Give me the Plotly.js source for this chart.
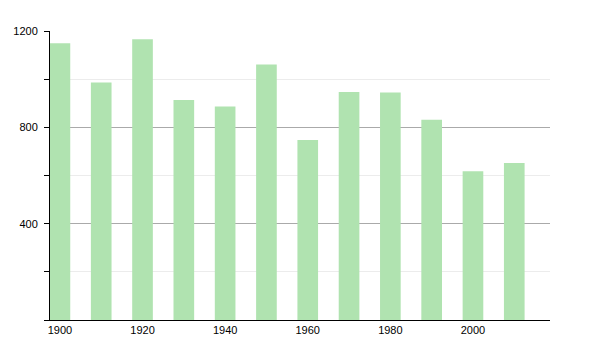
<!DOCTYPE html>
<html>
<head>
<meta charset="utf-8">
<script src="https://cdn.plot.ly/plotly-3.0.1.min.js"></script>
<style>html,body{margin:0;padding:0;background:#fff;}#chart{width:600px;height:350px;}</style>
</head>
<body>
<div id="chart"></div>
<script>
var years = [1900, 1910, 1920, 1930, 1940, 1950, 1960, 1970, 1980, 1990, 2000, 2010];
var population = [1149, 986, 1166, 913, 886, 1061, 747, 947, 945, 831, 618, 652];
var xTickVals = [1900, 1920, 1940, 1960, 1980, 2000];
var xTickText = ['1900', '1920', '1940', '1960', '1980', '2000'];
var yTickVals = [400, 800, 1200];
var yTickText = ['400', '800', '1200'];

var trace = {
  type: 'bar',
  x: years,
  y: population,
  width: 5,
  marker: {color: 'rgb(176,227,176)', line: {width: 0}},
  hoverinfo: 'x+y'
};

var layout = {
  width: 600,
  height: 350,
  margin: {l: 50, r: 50, t: 31, b: 30, pad: 0},
  paper_bgcolor: '#fff',
  plot_bgcolor: '#fff',
  showlegend: false,
  font: {family: '"Liberation Sans", Arial, sans-serif', size: 11, color: '#000'},
  xaxis: {
    range: [1897.6, 2018.65],
    tickvals: xTickVals,
    ticktext: xTickText,
    ticks: '',
    showgrid: false,
    zeroline: false,
    showline: true,
    linecolor: '#000',
    linewidth: 1,
    fixedrange: true
  },
  yaxis: {
    range: [0, 1200],
    tickvals: yTickVals,
    ticktext: yTickText,
    ticks: 'outside',
    ticklen: 5,
    tickcolor: '#000',
    ticklabelstandoff: 4,
    showgrid: true,
    gridcolor: '#aaaaaa',
    gridwidth: 1,
    zeroline: false,
    showline: true,
    linecolor: '#000',
    linewidth: 1,
    minor: {
      dtick: 200,
      tick0: 0,
      ticks: 'outside',
      ticklen: 5,
      tickcolor: '#000',
      showgrid: true,
      gridcolor: '#ececec',
      gridwidth: 1
    },
    fixedrange: true
  }
};

Plotly.newPlot('chart', [trace], layout, {displayModeBar: false, staticPlot: true});
</script>
</body>
</html>
